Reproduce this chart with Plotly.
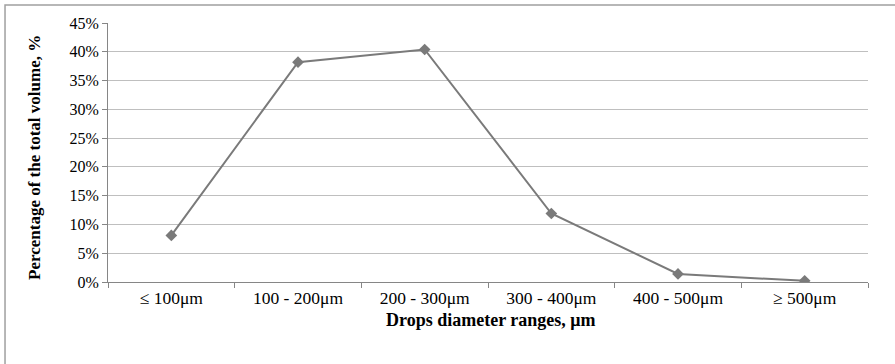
import plotly.graph_objects as go

categories = ["≤ 100μm", "100 - 200μm", "200 - 300μm", "300 - 400μm", "400 - 500μm", "≥ 500μm"]
values = [8.1, 38.2, 40.4, 11.9, 1.4, 0.2]
y_ticks = [0, 5, 10, 15, 20, 25, 30, 35, 40, 45]

FONT = "Liberation Serif, Times New Roman, serif"

fig = go.Figure()
fig.add_trace(go.Scatter(
    x=categories, y=values, mode="lines+markers",
    line=dict(color="#7a7a7a", width=2),
    marker=dict(symbol="diamond", size=9, color="#7a7a7a"),
    showlegend=False,
))

fig.update_layout(
    width=895, height=364,
    margin=dict(l=108, r=27, t=23, b=82),
    paper_bgcolor="white", plot_bgcolor="white",
    font=dict(family=FONT, size=16, color="black"),
    xaxis=dict(
        type="category",
        range=[-0.5, len(categories) - 0.5],
        showgrid=False,
        showline=True, linecolor="#868686", linewidth=1,
        ticks="outside", tickson="boundaries", ticklen=5, tickcolor="#868686",
        tickfont=dict(family=FONT, size=17.5),
    ),
    yaxis=dict(
        range=[0, 45],
        tickvals=y_ticks,
        ticktext=[f"{v}%" for v in y_ticks],
        showgrid=True, gridcolor="#bfbfbf", gridwidth=1,
        showline=True, linecolor="#868686", linewidth=1,
        ticks="outside", ticklen=5, tickcolor="#868686",
        tickfont=dict(family=FONT, size=16),
        zeroline=False,
    ),
)

fig.add_annotation(
    text="<b>Percentage of the total volume, %</b>",
    xref="paper", yref="paper", x=-0.096, y=0.479,
    textangle=-90, showarrow=False,
    font=dict(family=FONT, size=17, color="black"),
    xanchor="center", yanchor="middle",
)
fig.add_annotation(
    text="<b>Drops diameter ranges, μm</b>",
    xref="paper", yref="paper", x=0.504, y=-0.147,
    showarrow=False,
    font=dict(family=FONT, size=18, color="black"),
    xanchor="center", yanchor="middle",
)

fig.add_shape(
    type="rect", xref="paper", yref="paper",
    x0=-0.1355, x1=1.2, y0=-0.5, y1=1.0695,
    line=dict(color="#a0a0a0", width=1.5),
    layer="below",
)

fig.write_html("out.html")
